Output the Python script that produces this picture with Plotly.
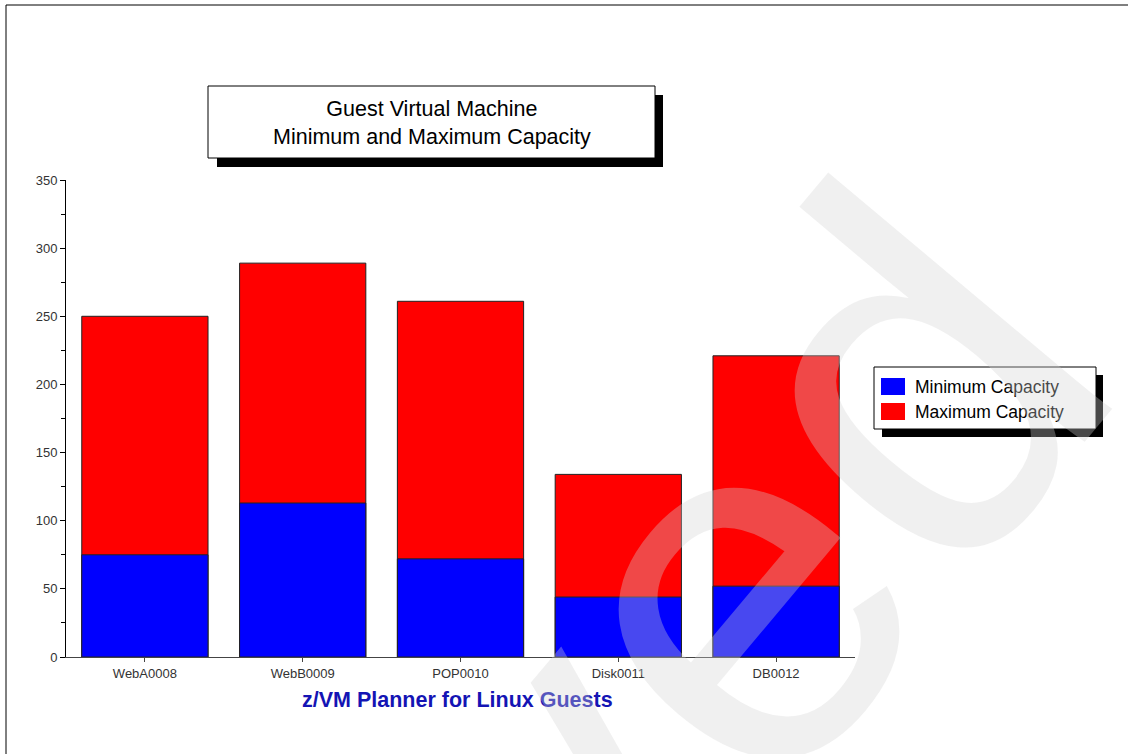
import plotly.graph_objects as go

categories = ["WebA0008", "WebB0009", "POP0010", "Disk0011", "DB0012"]
min_capacity = [75, 113, 72, 44, 52]
max_capacity = [250, 289, 261, 134, 221]
y_ticks = [0, 50, 100, 150, 200, 250, 300, 350]
legend_names = ["Minimum Capacity", "Maximum Capacity"]
min_color, max_color = "#0000ff", "#ff0000"

W, H = 1128, 754
L, R, T, B = 66, 855, 180, 657  # plot area pixel bounds
pw, ph = R - L, B - T


def px(x):
    return (x - L) / pw


def py(y):
    return (B - y) / ph


fig = go.Figure()
fig.add_trace(go.Bar(
    x=categories, y=max_capacity, name=legend_names[1],
    marker=dict(color=max_color, line=dict(color="#222222", width=1)),
    width=0.8,
))
fig.add_trace(go.Bar(
    x=categories, y=min_capacity, name=legend_names[0],
    marker=dict(color=min_color, line=dict(color="#222222", width=1)),
    width=0.8,
))

FONT = "Liberation Sans, Arial, Helvetica"
shapes = []
# outer border (top and left)
shapes.append(dict(type="line", xref="paper", yref="paper",
                   x0=px(6), x1=px(1140), y0=py(5), y1=py(5),
                   line=dict(color="black", width=1)))
shapes.append(dict(type="line", xref="paper", yref="paper",
                   x0=px(6), x1=px(6), y0=py(5), y1=py(760),
                   line=dict(color="black", width=1)))
# title box with shadow
shapes.append(dict(type="rect", xref="paper", yref="paper",
                   x0=px(217), x1=px(663), y0=py(95), y1=py(167),
                   fillcolor="black", line=dict(width=0)))
shapes.append(dict(type="rect", xref="paper", yref="paper",
                   x0=px(208), x1=px(655), y0=py(86), y1=py(158),
                   fillcolor="white", line=dict(color="black", width=1)))
# legend box with shadow
shapes.append(dict(type="rect", xref="paper", yref="paper",
                   x0=px(882), x1=px(1103), y0=py(375), y1=py(437),
                   fillcolor="black", line=dict(width=0)))
shapes.append(dict(type="rect", xref="paper", yref="paper",
                   x0=px(874), x1=px(1096), y0=py(367), y1=py(429),
                   fillcolor="white", line=dict(color="black", width=1)))
legend_colors = [min_color, max_color]
for i, (name, col) in enumerate(zip(legend_names, legend_colors)):
    y0 = 378 + i * 25
    shapes.append(dict(type="rect", xref="paper", yref="paper",
                       x0=px(881), x1=px(905), y0=py(y0), y1=py(y0 + 17),
                       fillcolor=col, line=dict(width=0)))

annotations = [
    dict(text="Guest Virtual Machine<br>Minimum and Maximum Capacity",
         xref="paper", yref="paper", x=px(432), y=py(123),
         xanchor="center", yanchor="middle", showarrow=False,
         font=dict(family=FONT, size=21.5, color="black")),
    dict(text="<b>z/VM Planner for Linux Guests</b>",
         xref="paper", yref="paper", x=px(457), y=py(700),
         xanchor="center", yanchor="middle", showarrow=False,
         font=dict(family=FONT, size=21.5, color="#1414b4")),
]
for i, name in enumerate(legend_names):
    annotations.append(dict(
        text=name, xref="paper", yref="paper", x=px(913), y=py(387 + i * 25),
        xanchor="left", yanchor="middle", showarrow=False,
        font=dict(family=FONT, size=17.5, color="black")))
# watermark on top of everything
annotations.append(dict(
    text="Archived", xref="paper", yref="paper", x=px(360), y=py(1030),
    xanchor="center", yanchor="middle", showarrow=False, textangle=-50,
    font=dict(family=FONT, size=510, color="rgba(212,212,212,0.34)")))

fig.update_layout(
    width=W, height=H,
    margin=dict(l=L, r=W - R, t=T, b=H - B),
    paper_bgcolor="white", plot_bgcolor="white",
    barmode="overlay", bargap=0.2,
    showlegend=False,
    shapes=shapes,
    annotations=annotations,
    font=dict(family=FONT),
)
fig.update_xaxes(
    range=[-0.5, 4.5], showline=True, linecolor="#444444", linewidth=1,
    ticks="outside", ticklen=4, tickcolor="#444444", showgrid=False,
    tickfont=dict(size=13, color="#333333"), fixedrange=True,
)
fig.update_yaxes(
    range=[0, 350], tickvals=y_ticks, showline=True, linecolor="black",
    linewidth=1, ticks="outside", ticklen=5, tickcolor="black", showgrid=False,
    zeroline=False, tickfont=dict(size=13, color="#333333"),
    minor=dict(dtick=25, ticks="outside", ticklen=4, tickcolor="black"),
    fixedrange=True,
)

fig.write_html("out.html", config={"displayModeBar": False},
               post_script="document.body.style.margin='0px';")
